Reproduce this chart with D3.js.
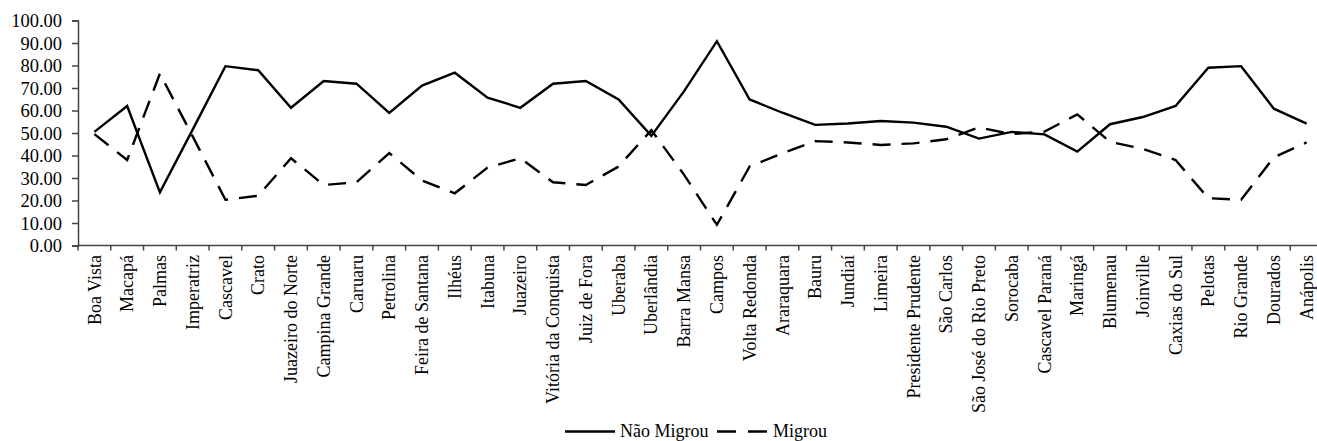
<!DOCTYPE html>
<html>
<head>
<meta charset="utf-8">
<script src="https://cdn.jsdelivr.net/npm/d3@7"></script>
<style>
html,body{margin:0;padding:0;background:#fff;overflow:hidden;}
text{font-family:"Liberation Serif","Times New Roman",serif;fill:#000;}
</style>
</head>
<body>
<svg id="chart" width="1317" height="441"></svg>
<script>
const categories = ["Boa Vista","Macapá","Palmas","Imperatriz","Cascavel","Crato","Juazeiro do Norte","Campina Grande","Caruaru","Petrolina","Feira de Santana","Ilhéus","Itabuna","Juazeiro","Vitória da Conquista","Juiz de Fora","Uberaba","Uberlândia","Barra Mansa","Campos","Volta Redonda","Araraquara","Bauru","Jundiaí","Limeira","Presidente Prudente","São Carlos","São José do Rio Preto","Sorocaba","Cascavel Paraná","Maringá","Blumenau","Joinville","Caxias do Sul","Pelotas","Rio Grande","Dourados","Anápolis"];
const naoMigrou = [50.5,62.0,23.6,51.5,79.7,77.9,61.2,73.1,71.9,58.9,71.1,76.8,65.7,61.2,71.9,73.1,64.9,48.7,68.6,90.8,64.9,59.0,53.6,54.2,55.3,54.6,52.8,47.5,50.5,49.4,41.7,53.9,57.1,62.0,79.0,79.7,60.8,54.2];
const migrou = [49.5,38.0,76.4,48.5,20.3,22.1,38.8,26.9,28.1,41.1,28.9,23.2,34.6,38.8,28.1,26.9,35.1,51.3,31.4,9.2,35.1,41.0,46.4,45.8,44.7,45.4,47.2,52.5,49.5,50.6,58.3,46.1,42.9,38.0,21.0,20.3,39.2,45.8];
const yTicks = [0,10,20,30,40,50,60,70,80,90,100];
const seriesNames = ["Não Migrou","Migrou"];

(function(){
const svg = d3.select("#chart");
const mLeft = 78, mRight = 1323, mTop = 20.5, mBottom = 245.5;

const x = d3.scaleBand().domain(categories).range([mLeft, mRight]).paddingInner(0).paddingOuter(0);
const y = d3.scaleLinear().domain([0,100]).range([mBottom, mTop]);

// Y axis
const yAxis = svg.append("g").attr("transform", `translate(${mLeft},0)`)
  .call(d3.axisLeft(y).tickValues(yTicks).tickFormat(d3.format(".2f")).tickSize(6).tickPadding(10));
yAxis.select(".domain").attr("stroke","#444").attr("stroke-width",1.5);
yAxis.selectAll(".tick line").attr("stroke","#444").attr("stroke-width",1.5);
yAxis.selectAll("text").style("font-size","18.5px").attr("dy","0.34em");

// X axis
const xAxis = svg.append("g").attr("transform", `translate(0,${mBottom})`)
  .call(d3.axisBottom(x).tickSizeOuter(0).tickSize(0).tickFormat(""));
xAxis.select(".domain").attr("stroke","#444").attr("stroke-width",1.5).attr("d",`M${mLeft},0H1317`);
const bounds = d3.range(categories.length + 1).map(i => mLeft + i * x.step());
svg.append("g").selectAll("line").data(bounds).join("line")
  .attr("x1", d => d).attr("x2", d => d)
  .attr("y1", mBottom).attr("y2", mBottom + 5)
  .attr("stroke","#444").attr("stroke-width",1.5);
svg.append("g").selectAll("text").data(categories).join("text")
  .attr("transform", d => `translate(${x(d) + x.bandwidth()/2},${mBottom + 9.5}) rotate(-90)`)
  .attr("text-anchor","end")
  .attr("dy","0.34em")
  .style("font-size","18px")
  .text(d => d);

// Lines
const line = d3.line()
  .x((d,i) => x(categories[i]) + x.bandwidth()/2)
  .y(d => y(d));
svg.append("path").datum(naoMigrou)
  .attr("d", line).attr("fill","none").attr("stroke","#000").attr("stroke-width",2.4);
svg.append("path").datum(migrou)
  .attr("d", line).attr("fill","none").attr("stroke","#000").attr("stroke-width",2.4)
  .attr("stroke-dasharray","18,11");

// Legend
const lg = svg.append("g");
lg.append("line").attr("x1",565).attr("x2",615).attr("y1",431.5).attr("y2",431.5)
  .attr("stroke","#000").attr("stroke-width",2.4);
lg.append("text").attr("x",620).attr("y",436.5).style("font-size","18px").text(seriesNames[0]);
lg.append("line").attr("x1",717).attr("x2",767).attr("y1",431.5).attr("y2",431.5)
  .attr("stroke","#000").attr("stroke-width",2.4).attr("stroke-dasharray","19,12");
lg.append("text").attr("x",773).attr("y",436.5).style("font-size","18px").text(seriesNames[1]);
})();
</script>
</body>
</html>
